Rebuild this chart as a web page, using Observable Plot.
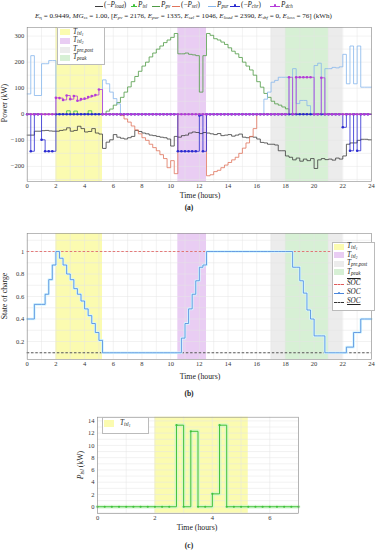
<!DOCTYPE html>
<html><head><meta charset="utf-8">
<script src="https://cdn.jsdelivr.net/npm/d3@7"></script>
<script src="https://cdn.jsdelivr.net/npm/@observablehq/plot@0.6"></script>
<style>
body{margin:0;background:#fff;}
#root{position:relative;width:378px;height:550px;overflow:hidden;font-family:"Liberation Serif","DejaVu Serif",serif;color:#222;}
#root svg{position:absolute;left:0;}
.t{position:absolute;white-space:nowrap;line-height:1;}
.i{font-style:italic;}
sub{font-size:70%;vertical-align:-0.25em;line-height:0;}
.box{position:absolute;background:#fff;border:0.6px solid #bbb;}
.sw{position:absolute;}
</style></head><body><div id="root"></div>
<script>
// ---------- DATA (15-min steps, t = 0 ... 23.75 h) ----------
const hours = d3.range(96).map(i => i / 4);
const negLoad = [-80,-80,-65,-65, -63,-62,-64,-65, -65,-62,-60,-52, -65,-62,-46,-55, -68,-66,-55,-72, -76,-131,-107,-98,
  -78,-88,-92,-95, -90,-85,-62,-66, -72,-75,-80,-82, -85,-88,-90,-95, -122,-85,-88,-82, -80,-72,-68,-70,
  -74,-70,-72,-75, -78,-74,-82,-80, -78,-84,-80,-76, -88,-90,-86,-88, -95,-108,-110,-115, -115,-118,-140,-140,
  -160,-165,-175,-168, -180,-172,-178,-170, -208,-175,-170,-174, -172,-176,-168,-172, -160,-115,-110,-110, -100,-96,-96,-98];
const pIsl = [0,0,0,0, 0,0,0,0, 0,0,0,13.3, 0,12.3,0,0, 2.1,13.3,0,0, 0,0,0,0,
  0,0,0,0, 0,0,0,0, 0,0,0,0, 0,0,0,0, 0,0,0,0, 0,0,0,0,
  0,0,0,0, 0,0,0,0, 0,0,0,0, 0,0,0,0, 0,0,0,0, 0,0,0,0,
  0,0,0,0, 0,0,0,0, 0,0,0,0, 0,0,0,0, 0,0,0,0, 0,0,0,0];
const pPv = [0,0,0,0, 0,0,0,0, 0,0,0,0, 0,0,0,0, 0,0,0,0, 0,0,12,20,
  35,45,65,85, 105,125,145,165, 185,200,220,235, 250,262,275,285, 295,310,232,232, 235,230,228,225,
  85,225,310,303, 290,285,277,268, 255,242,232,218, 200,185,170,150, 125,104,80,65, 50,40,35,28,
  21,0,0,0, 0,0,0,0, 0,0,0,0, 0,0,0,0, 0,0,0,0, 0,0,0,0];
const negSel = [0,0,0,0, 0,0,0,0, 0,0,0,0, 0,0,0,0, 0,0,0,0, 0,0,0,0,
  0,0,-5,-18, -30,-45,-60,-75, -90,-100,-115,-128, -140,-155,-170,-205, -178,-228,0,0, 0,0,0,0,
  0,0,-236,-232, -220,-215,-205,-195, -185,-175,-165,-150, -130,-110,-85,-55, 0,0,0,0, 0,0,0,0,
  0,0,0,0, 0,0,0,0, 0,0,0,0, 0,0,0,0, 0,0,0,0, 0,0,0,0];
const pPur = [78,225,72,72, 194,194,206,206, 0,0,0,0, 0,0,0,0, 0,0,0,0, 0,132,117,85,
  60,40,0,0, 0,0,0,0, 0,0,0,0, 0,0,0,0, 0,0,0,0, 0,0,0,0,
  0,0,0,0, 0,0,0,0, 0,0,0,0, 0,0,0,0, 0,0,58,85, 123,130,142,142,
  142,0,175,41, 53,53,33,0, 187,196,0,175, 175,180,178,182, 230,117,262,117, 262,104,104,104];
const negChr = [0,-142,0,0, -98,-142,-142,-142, 0,0,0,0, 0,0,0,0, 0,0,0,0, 0,0,0,0,
  0,0,0,0, 0,0,0,0, 0,0,0,0, 0,0,0,0, 0,0,-142,-142, -142,-142,-142,-142,
  -5,-142,0,0, 0,0,0,0, 0,0,0,0, 0,0,0,0, 0,0,0,0, 0,0,0,0,
  0,0,0,0, 0,0,0,0, 0,0,0,0, 0,0,0,0, -50,0,-140,0, -140,0,0,0];
const pDch = [0,0,0,0, 0,0,0,0, 63,62,55,72, 58,70,52,58, 60,66,70,74, 95,0,0,0,
  0,0,0,0, 0,0,0,0, 0,0,0,0, 0,0,0,0, 0,0,0,0, 0,0,0,0,
  0,0,0,0, 0,0,0,0, 0,0,0,0, 0,0,0,0, 0,0,0,0, 0,0,0,0,
  0,142,0,142, 142,142,142,142, 0,0,140,0, 0,0,0,0, 0,0,0,0, 0,0,0,0];
const soc = [0.40,0.40,0.53,0.53, 0.53,0.62,0.75,0.88, 1.0,0.94,0.88,0.80, 0.75,0.67,0.62,0.56, 0.49,0.43,0.36,0.28, 0.21,0.10,0.10,0.10,
  0.10,0.10,0.10,0.10, 0.10,0.10,0.10,0.10, 0.10,0.10,0.10,0.10, 0.10,0.10,0.10,0.10, 0.10,0.10,0.10,0.23, 0.36,0.49,0.62,0.74,
  0.86,0.88,1.0,1.0, 1.0,1.0,1.0,1.0, 1.0,1.0,1.0,1.0, 1.0,1.0,1.0,1.0, 1.0,1.0,1.0,1.0, 1.0,1.0,1.0,1.0,
  1.0,1.0,0.86,0.86, 0.74,0.63,0.48,0.40, 0.25,0.25,0.25,0.10, 0.10,0.10,0.10,0.10, 0.10,0.15,0.15,0.28, 0.28,0.40,0.40,0.40];
const socMax = 1.0, socMin = 0.1;
const periodNames = ["Tisl1", "Tisl2", "Tpre", "Tpeak", "Tpre"];
const periodStart = [2, 10.5, 17, 18, 21];
const periodEnd = [5.25, 12.5, 18, 21, 22];
const xTicks = [0,2,4,6,8,10,12,14,16,18,20,22,24];
const yTicksA = [-200,-100,0,100,200,300];
const yTicksB = [0.2,0.4,0.6,0.8,1];
const xTicksC = [0,2,4,6];
const yTicksC = [0,2,4,6,8,10,12,14];

// ---------- STYLE ----------
const C = {load:"#3c3c3c", isl:"#3fc23a", pv:"#4f9a45", sel:"#e0745c", pur:"#86b6ec", chr:"#2a2ad0", dch:"#b43cd8",
  Tisl1:"#fbfbb0", Tisl2:"#e9cdf3", Tpre:"#ececec", Tpeak:"#d7f0d5", soc:"#4a86dc", socHalo:"#d6f6ff", grid:"#e4e4e4"};
const FONT = '"Liberation Serif","DejaVu Serif",serif';
const root = document.getElementById("root");
const bands = periodNames.map((n,i)=>({n, x1:periodStart[i], x2:periodEnd[i]}));
function steps(arr, tmax=24){ const r = arr.map((v,i)=>({t:hours[i], v})).filter(d=>d.t<tmax); r.push({t:tmax, v:arr[r.length-1]}); return r; }
function pts(arr, tmax=24){ return arr.map((v,i)=>({t:hours[i], v})).filter(d=>d.t<=tmax); }
const baseStyle = {fontFamily:FONT, fontSize:"6.5px", color:"#333", background:"transparent", overflow:"visible"};

// ---------- PANEL A ----------
const pa = Plot.plot({
  width:378, height:200, marginTop:27, marginBottom:19, marginLeft:26.7, marginRight:7,
  style: baseStyle,
  x:{domain:[0,24]}, y:{domain:[-258,333]},
  marks:[
    Plot.frame({fill:"#fff"}),
    Plot.rect(bands, {x1:"x1", x2:"x2", fill:d=>C[d.n]}),
    Plot.gridX(d3.range(0,25,1), {stroke:C.grid, strokeOpacity:1, strokeWidth:0.5}),
    Plot.gridY(d3.range(-250,334,50), {stroke:C.grid, strokeOpacity:1, strokeWidth:0.5}),
    Plot.axisX(xTicks, {tickSize:0, tickPadding:2, label:null}),
    Plot.axisY(yTicksA, {tickSize:0, tickPadding:3, label:null}),
    Plot.line(steps(negLoad), {x:"t", y:"v", curve:"step-after", stroke:C.load, strokeWidth:0.8}),
    Plot.line(steps(pIsl), {x:"t", y:"v", curve:"step-after", stroke:C.isl, strokeWidth:0.8}),
    Plot.line(steps(pPv), {x:"t", y:"v", curve:"step-after", stroke:C.pv, strokeWidth:0.8}),
    Plot.line(steps(negSel), {x:"t", y:"v", curve:"step-after", stroke:C.sel, strokeWidth:0.8}),
    Plot.line(steps(pPur), {x:"t", y:"v", curve:"step-after", stroke:C.pur, strokeWidth:0.8}),
    Plot.line(steps(negChr), {x:"t", y:"v", curve:"step-after", stroke:C.chr, strokeWidth:0.8}),
    Plot.dot(pts(negChr), {x:"t", y:"v", r:1.3, fill:C.chr}),
    Plot.line(steps(pDch), {x:"t", y:"v", curve:"step-after", stroke:C.dch, strokeWidth:0.8}),
    Plot.dot(pts(pDch), {x:"t", y:"v", r:1.3, fill:C.dch}),
    Plot.frame({stroke:"#8a8a8a", strokeWidth:0.6})
  ]
});
pa.style.top = "0px"; root.appendChild(pa);

// ---------- PANEL B ----------
const pb = Plot.plot({
  width:378, height:200, marginTop:33, marginBottom:41, marginLeft:26.7, marginRight:7,
  style: baseStyle,
  x:{domain:[0,24]}, y:{domain:[0.04,1.16]},
  marks:[
    Plot.frame({fill:"#fff"}),
    Plot.rect(bands, {x1:"x1", x2:"x2", fill:d=>C[d.n]}),
    Plot.gridX(d3.range(0,25,1), {stroke:C.grid, strokeOpacity:1, strokeWidth:0.5}),
    Plot.gridY(d3.range(0.1,1.16,0.1), {stroke:C.grid, strokeOpacity:1, strokeWidth:0.5}),
    Plot.axisX(xTicks, {tickSize:0, tickPadding:2, label:null}),
    Plot.axisY(yTicksB, {tickSize:0, tickPadding:3, label:null, tickFormat:d=>d===1?"1":d3.format(".1f")(d)}),
    Plot.ruleY([socMax], {stroke:"#e05a5a", strokeDasharray:"2.5,1.8", strokeWidth:0.8}),
    Plot.ruleY([socMin], {stroke:"#333", strokeDasharray:"2.5,1.8", strokeWidth:0.8}),
    Plot.line(steps(soc), {x:"t", y:"v", curve:"step-after", stroke:C.socHalo, strokeWidth:2.6}),
    Plot.line(steps(soc), {x:"t", y:"v", curve:"step-after", stroke:C.soc, strokeWidth:0.8}),
    Plot.frame({stroke:"#8a8a8a", strokeWidth:0.6})
  ]
});
pb.style.top = "200px"; root.appendChild(pb);

// ---------- PANEL C ----------
const pc = Plot.plot({
  width:378, height:150, marginTop:16.7, marginBottom:37, marginLeft:97, marginRight:80,
  style: baseStyle,
  x:{domain:[0,7]}, y:{domain:[-1.1,14.6]},
  marks:[
    Plot.frame({fill:"#fff"}),
    Plot.rect(bands.filter(d=>d.x2<=7), {x1:"x1", x2:"x2", fill:d=>C[d.n]}),
    Plot.gridX(d3.range(0,7.1,1), {stroke:C.grid, strokeOpacity:1, strokeWidth:0.5}),
    Plot.gridY(d3.range(-1,15,1), {stroke:C.grid, strokeOpacity:1, strokeWidth:0.5}),
    Plot.axisX(xTicksC, {tickSize:0, tickPadding:2, label:null}),
    Plot.axisY(yTicksC, {tickSize:0, tickPadding:3, label:null}),
    Plot.line(steps(pIsl,7), {x:"t", y:"v", curve:"step-after", stroke:"#d2f6cc", strokeWidth:4, strokeOpacity:0.7}),
    Plot.line(steps(pIsl,7), {x:"t", y:"v", curve:"step-after", stroke:C.isl, strokeWidth:1}),
    Plot.dot(pts(pIsl,7), {x:"t", y:"v", r:1.1, fill:C.isl}),
    Plot.frame({stroke:"#8a8a8a", strokeWidth:0.6})
  ]
});
pc.style.top = "400px"; root.appendChild(pc);

// ---------- TEXT / LEGENDS (HTML overlay) ----------
function add(html, x, y, size, extra=""){
  const d = document.createElement("div"); d.className = "t"; d.innerHTML = html;
  d.style.cssText += `left:${x}px;top:${y}px;font-size:${size}px;${extra}`; root.appendChild(d); return d;
}
function box(x,y,w,h){ const d=document.createElement("div"); d.className="box"; d.style.cssText+=`left:${x}px;top:${y}px;width:${w}px;height:${h}px;`; root.appendChild(d); }
function sw(x,y,w,h,color){ const d=document.createElement("div"); d.className="sw"; d.style.cssText+=`left:${x}px;top:${y}px;width:${w}px;height:${h}px;background:${color};`; root.appendChild(d); }
function lineSw(x,y,w,color,dash=false,dot=false){
  const d=document.createElement("div"); d.className="sw";
  d.style.cssText+=`left:${x}px;top:${y}px;width:${w}px;height:0;border-top:0.9px ${dash?"dashed":"solid"} ${color};`; root.appendChild(d);
  if(dot){ const m=document.createElement("div"); m.className="sw"; m.style.cssText+=`left:${x+w/2-1.3}px;top:${y-1.2}px;width:2.6px;height:2.6px;border-radius:50%;background:${color};`; root.appendChild(m);} }
const P = s => `<i>P</i><sub class="i">${s}</sub>`;

// top legend (a)
const legA = [
  {x:95, w:8, c:C.load, txt:`(−${P("load")})`, dot:false},
  {x:131, w:6, c:C.isl, txt:P("isl"), dot:true},
  {x:152, w:8, c:C.pv, txt:P("pv"), dot:false},
  {x:172, w:8, c:C.sel, txt:`(−${P("sel")})`, dot:false},
  {x:208, w:8, c:C.pur, txt:P("pur"), dot:false},
  {x:230, w:10, c:C.chr, txt:`(−${P("chr")})`, dot:true},
  {x:270, w:10, c:C.dch, txt:P("dch"), dot:true}
];
legA.forEach(l=>{ lineSw(l.x, 5.5, l.w, l.c, false, l.dot); add(l.txt, l.x+l.w+1, 1.5, 7.2); });

add(`<i>E</i><sub>η</sub> = 0.9449, <i>MG</i><sub class="i">ss</sub> = 1.00, [<i>E</i><sub class="i">pv</sub> = 2176, <i>E</i><sub class="i">pur</sub> = 1335, <i>E</i><sub class="i">sel</sub> = 1046, <i>E</i><sub class="i">load</sub> = 2390, <i>E</i><sub class="i">shf</sub> = 0, <i>E</i><sub class="i">loss</sub> = 76] (kWh)`,
  35, 12.5, 7.1);

// legend box inside (a)
box(57, 27, 46, 36);
const legPer = [["Tisl1","isl<sub>1</sub>"],["Tisl2","isl<sub>2</sub>"],["Tpre","pre,post"],["Tpeak","peak"]];
legPer.forEach((p,i)=>{ const y = 28.5 + i*8.6; sw(60, y+0.8, 10, 6, C[p[0]]); add(`<i>T</i><sub class="i">${p[1]}</sub>`, 73, y, 7.2); });

// axis labels / captions
add("Power (kW)", 5, 103, 7.8, "transform:translate(-50%,-50%) rotate(-90deg);");
add("Time (hours)", 200, 192, 7.8, "transform:translateX(-50%);");
add("(a)", 189, 203.5, 7.5, "transform:translateX(-50%);font-weight:bold;");

add("State of charge", 5, 296, 7.8, "transform:translate(-50%,-50%) rotate(-90deg);");
add("Time (hours)", 200, 373, 7.8, "transform:translateX(-50%);");
add("(b)", 189, 389.5, 7.5, "transform:translateX(-50%);font-weight:bold;");

// legend (b)
box(331.5, 241.5, 41.5, 67);
legPer.forEach((p,i)=>{ const y = 243 + i*8.5; sw(334, y+0.8, 10, 6, C[p[0]]); add(`<i>T</i><sub class="i">${p[1]}</sub>`, 347, y, 7.2); });
lineSw(334, 283.5, 10, "#e05a5a", true); add(`<i style="text-decoration:overline">SOC</i>`, 347, 279.5, 7.2);
lineSw(334, 293, 10, C.soc, false, true); add(`<i>SOC</i>`, 347, 289, 7.2);
lineSw(334, 301.5, 10, "#333", true); add(`<i style="text-decoration:underline">SOC</i>`, 347, 297.5, 7.2);

// panel (c) labels
add(`${P("isl")} (kW)`, 81, 465, 7.8, "transform:translate(-50%,-50%) rotate(-90deg);");
add("Time (hours)", 197, 524, 7.8, "transform:translateX(-50%);");
add("(c)", 189, 542, 7.5, "transform:translateX(-50%);font-weight:bold;");
box(101.5, 416.7, 45, 15);
sw(104, 420, 10, 7, C.Tisl1); add(`<i>T</i><sub class="i">isl<sub>1</sub></sub>`, 120, 419.5, 7.2);
</script></body></html>
